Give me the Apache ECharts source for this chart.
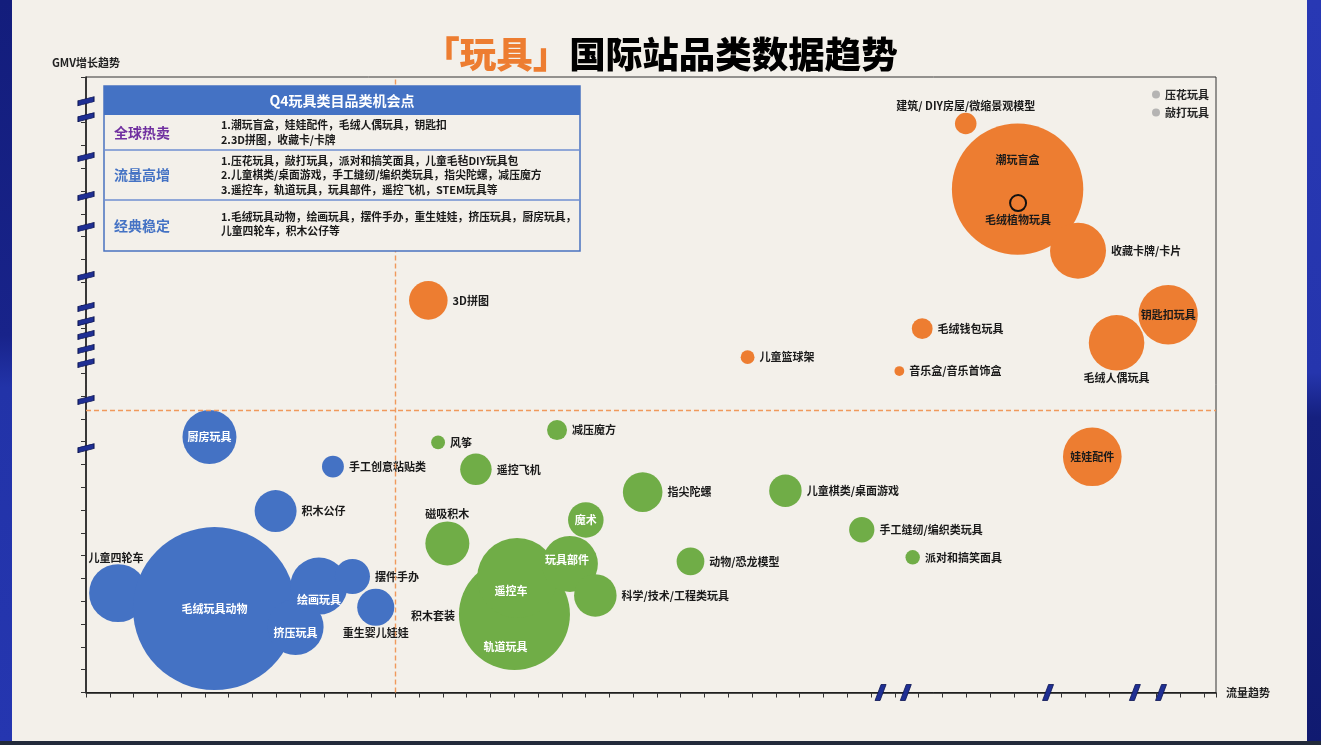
<!DOCTYPE html>
<html><head><meta charset="utf-8">
<script src="https://cdn.jsdelivr.net/npm/echarts@6/dist/echarts.min.js"></script>
<style>html,body{margin:0;padding:0;background:#f3f0ea;}#c{width:1321px;height:745px;}</style>
</head><body><div id="c"></div>
<script>
// ---------------- DATA ----------------
// x = 流量趋势, y = GMV增长趋势, z = bubble magnitude
const blueNames = ['厨房玩具','手工创意粘贴类','积木公仔','儿童四轮车','毛绒玩具动物','绘画玩具','摆件手办','挤压玩具','重生婴儿娃娃'];
const blueX = [5.19, 10.38, 7.97, 1.35, 5.40, 9.79, 11.20, 8.81, 12.18];
const blueY = [11.21, 9.91, 7.96, 4.36, 3.68, 4.67, 5.09, 2.87, 3.74];
const blueZ = [182, 30, 110, 210, 1660, 204, 77, 196, 86];

const greenNames = ['风筝','减压魔方','遥控飞机','磁吸积木','魔术','指尖陀螺','儿童棋类/桌面游戏','手工缝纫/编织类玩具','派对和搞笑面具','动物/恐龙模型','积木套装','轨道玩具','遥控车','玩具部件','科学/技术/工程类玩具'];
const greenX = [14.80, 19.80, 16.39, 15.19, 21.01, 23.40, 29.40, 32.61, 34.75, 25.41, 17.61, 18.01, 18.12, 20.34, 21.41];
const greenY = [10.97, 11.51, 9.79, 6.54, 7.57, 8.79, 8.85, 7.14, 5.93, 5.75, 3.53, 3.42, 5.02, 5.64, 4.26];
const greenZ = [12, 25, 62, 121, 79, 98, 66, 40, 13, 48, 506, 770, 400, 196, 113];

const orangeNames = ['建筑/ DIY房屋/微缩景观模型','潮玩盲盒','毛绒植物玩具','收藏卡牌/卡片','钥匙扣玩具','毛绒人偶玩具','毛绒钱包玩具','音乐盒/音乐首饰盒','3D拼图','儿童篮球架','娃娃配件'];
const orangeX = [36.98, 39.16, 39.18, 41.70, 45.49, 43.32, 35.15, 34.19, 14.39, 27.81, 42.30];
const orangeY = [24.96, 22.08, 21.47, 19.38, 16.57, 15.34, 15.96, 14.10, 17.20, 14.71, 10.34];
const orangeZ = [29, 1079, 16, 196, 220, 193, 27, 6, 93, 12, 215];

const legendNames = ['压花玩具','敲打玩具'];
const quadrantX = 13;
const quadrantY = 12.37;
const yBreaks = [25.94, 25.24, 23.49, 21.78, 20.42, 18.27, 16.91, 16.29, 15.68, 15.07, 14.45, 12.83, 10.72];
const xBreaks = [33.40, 34.46, 40.44, 44.09, 45.19];

const tableTitle = 'Q4玩具类目品类机会点';
const tableLabels = ['全球热卖','流量高增','经典稳定'];
const tableTexts = [
  '1.潮玩盲盒，娃娃配件，毛绒人偶玩具，钥匙扣\n2.3D拼图，收藏卡/卡牌',
  '1.压花玩具，敲打玩具，派对和搞笑面具，儿童毛毡DIY玩具包\n2.儿童棋类/桌面游戏，手工缝纫/编织类玩具，指尖陀螺，减压魔方\n3.遥控车，轨道玩具，玩具部件，遥控飞机，STEM玩具等',
  '1.毛绒玩具动物，绘画玩具，摆件手办，重生娃娃，挤压玩具，厨房玩具，\n儿童四轮车，积木公仔等'
];

// ---------------- STYLE ----------------
const FONT = '"Noto Sans CJK SC", "Noto Sans", sans-serif';
const W = '#ffffff', K = '#1a1a1a';
const labelPlace = {
  '厨房玩具': {position:'inside', color:W},
  '毛绒玩具动物': {position:'inside', color:W},
  '绘画玩具': {position:'inside', color:W, offset:[0,14]},
  '挤压玩具': {position:'inside', color:W, offset:[0,6]},
  '遥控车': {position:'inside', color:W, offset:[-6,13]},
  '轨道玩具': {position:'inside', color:W, offset:[-9,32]},
  '玩具部件': {position:'inside', color:W, offset:[-3,-4]},
  '魔术': {position:'inside', color:W},
  '潮玩盲盒': {position:'inside', color:K, offset:[0,-29]},
  '钥匙扣玩具': {position:'inside', color:K},
  '娃娃配件': {position:'inside', color:K},
  '建筑/ DIY房屋/微缩景观模型': {position:'top', distance:1},
  '磁吸积木': {position:'top', distance:2},
  '儿童四轮车': {position:'top', distance:1, offset:[-2,0]},
  '毛绒人偶玩具': {position:'bottom', distance:2},
  '重生婴儿娃娃': {position:'bottom', distance:2},
  '毛绒植物玩具': {position:'bottom', distance:2},
  '积木套装': {position:'left', distance:5, offset:[0,4]}
};
const itemOverride = {
  '毛绒植物玩具': {color:'rgba(0,0,0,0)', borderColor:'#111', borderWidth:2}
};
function build(names, xs, ys, zs){
  return names.map(function(n,i){
    const it = {name:n, value:[xs[i], ys[i], zs[i]]};
    if (labelPlace[n]) it.label = labelPlace[n];
    if (itemOverride[n]) it.itemStyle = itemOverride[n];
    return it;
  });
}
const baseLabel = {show:true, position:'right', distance:5, formatter:function(p){return p.name;},
  fontSize:11, fontWeight:'bold', color:K, fontFamily:FONT};
function bubbleSeries(name, color, data){
  return {type:'scatter', name:name, data:data, symbolSize:function(v){return 4*Math.sqrt(v[2]);},
    itemStyle:{color:color, opacity:1}, label:baseLabel, emphasis:{disabled:true}, silent:true, z:3};
}

const chart = echarts.init(document.getElementById('c'), null, {renderer:'canvas'});

const bg = '#f3f0ea';
const tX = 104, tY = 86, tW = 476, tH = 165;
const rowTops = [115, 150, 200, 251];
const graphics = [
  {type:'rect', silent:true, z:-10, shape:{x:0,y:0,width:12,height:745},
    style:{fill:{type:'linear',x:0,y:0,x2:0,y2:1,colorStops:[{offset:0,color:'#131d7c'},{offset:0.45,color:'#18238a'},{offset:0.52,color:'#2233a8'},{offset:1,color:'#2536b0'}]}}},
  {type:'rect', silent:true, z:-10, shape:{x:1307,y:0,width:14,height:745},
    style:{fill:{type:'linear',x:0,y:0,x2:0,y2:1,colorStops:[{offset:0,color:'#2838b4'},{offset:0.5,color:'#2535ad'},{offset:0.56,color:'#15207f'},{offset:1,color:'#101a70'}]}}},
  {type:'rect', silent:true, z:-10, shape:{x:0,y:741,width:1321,height:4}, style:{fill:'#222a3a'}},
  // table
  {type:'rect', silent:true, z:20, shape:{x:tX,y:tY,width:tW,height:tH}, style:{fill:bg, stroke:'#4a72c0', lineWidth:1.5}},
  {type:'rect', silent:true, z:21, shape:{x:tX,y:tY,width:tW,height:rowTops[0]-tY}, style:{fill:'#4472c4'}},
  {type:'line', silent:true, z:21, shape:{x1:tX,y1:rowTops[1],x2:tX+tW,y2:rowTops[1]}, style:{stroke:'#6f8fd0', lineWidth:1.5}},
  {type:'line', silent:true, z:21, shape:{x1:tX,y1:rowTops[2],x2:tX+tW,y2:rowTops[2]}, style:{stroke:'#6f8fd0', lineWidth:1.5}},
  {type:'text', silent:true, z:22, x:tX+tW/2, y:(tY+rowTops[0])/2,
    style:{text:tableTitle, fill:'#ffffff', fontSize:14, fontWeight:'bold', fontFamily:FONT,
      align:'center', verticalAlign:'middle', textAlign:'center', textVerticalAlign:'middle'}}
];
const labelColors = ['#7030a0','#4472c4','#4472c4'];
for (let i=0;i<3;i++){
  const cy = (rowTops[i]+rowTops[i+1])/2;
  graphics.push({type:'text', silent:true, z:22, x:114, y:cy,
    style:{text:tableLabels[i], fill:labelColors[i], fontSize:14, fontWeight:'bold', fontFamily:FONT,
      align:'left', verticalAlign:'middle', textAlign:'left', textVerticalAlign:'middle'}});
  graphics.push({type:'text', silent:true, z:22, x:221, y:cy - (i===2?1.5:0),
    style:{text:tableTexts[i], fill:K, fontSize:10.8, fontWeight:'bold', fontFamily:FONT, lineHeight:14.5,
      align:'left', verticalAlign:'middle', textAlign:'left', textVerticalAlign:'middle'}});
}

const series = [
  {type:'scatter', name:'quadrant', data:[], silent:true, z:1,
    markLine:{silent:true, symbol:'none', label:{show:false},
      lineStyle:{color:'#f0995c', width:1.4, type:[5,3]},
      data:[{xAxis:quadrantX},{yAxis:quadrantY}]}},
  bubbleSeries('blue','#4472c4', build(blueNames, blueX, blueY, blueZ)),
  bubbleSeries('green','#70ad47', build(greenNames, greenX, greenY, greenZ)),
  bubbleSeries('orange','#ed7d31', build(orangeNames, orangeX, orangeY, orangeZ)),
  {type:'scatter', name:legendNames[0], data:[], itemStyle:{color:'#a5a5a5'}},
  {type:'scatter', name:legendNames[1], data:[], itemStyle:{color:'#a5a5a5'}},
  {type:'scatter', name:'ybreak', data:yBreaks.map(function(v){return [0,v];}), clip:false, silent:true, z:6,
    symbol:'path://M0,9 L16,5 L16,0 L0,4 Z', symbolSize:[16,9],
    itemStyle:{color:'#1f2f94', borderColor:'#0c1552', borderWidth:0.8, opacity:1}, label:{show:false}},
  {type:'scatter', name:'xbreak', data:xBreaks.map(function(v){return [v,0];}), clip:false, silent:true, z:6,
    symbol:'path://M0,16 L5,16 L11,0 L6,0 Z', symbolSize:[11,16],
    itemStyle:{color:'#1f2f94', borderColor:'#0c1552', borderWidth:0.8, opacity:1}, label:{show:false}}
];

chart.setOption({
  backgroundColor: bg,
  animation:false,
  textStyle:{fontFamily:FONT},
  title:{left:'center', top:32, padding:0,
    text:'{a|「玩具」}{b|国际站品类数据趋势}',
    textStyle:{rich:{
      a:{color:'#ed7d31', fontSize:36.5, fontWeight:900, fontFamily:FONT, lineHeight:44},
      b:{color:'#000000', fontSize:36.5, fontWeight:900, fontFamily:FONT, lineHeight:44}}}},
  legend:{data:legendNames, orient:'vertical', left:1147, top:83, itemWidth:8, itemHeight:8, itemGap:5,
    icon:'circle', selectedMode:false,
    textStyle:{fontSize:11, fontWeight:'bold', color:'#222', fontFamily:FONT, lineHeight:13}},
  grid:{left:86, right:105, top:77, bottom:52.5, show:true, borderColor:'#333', borderWidth:1, backgroundColor:'transparent'},
  xAxis:{type:'value', min:0, max:47.5, interval:1, name:'流量趋势', nameLocation:'end', nameGap:10,
    nameTextStyle:{fontSize:11, fontWeight:'bold', color:'#222', fontFamily:FONT},
    axisLine:{lineStyle:{color:'#1a1a1a', width:1.5}},
    axisTick:{show:true, length:5, lineStyle:{color:'#333'}},
    axisLabel:{show:false}, splitLine:{show:false}},
  yAxis:{type:'value', min:0, max:27, interval:1, name:'GMV增长趋势', nameLocation:'end', nameGap:9,
    nameTextStyle:{fontSize:11, fontWeight:'bold', color:'#222', fontFamily:FONT},
    axisLine:{lineStyle:{color:'#1a1a1a', width:1.5}},
    axisTick:{show:true, length:5, lineStyle:{color:'#333'}},
    axisLabel:{show:false}, splitLine:{show:false}},
  graphic: graphics,
  series: series
});
</script></body></html>
